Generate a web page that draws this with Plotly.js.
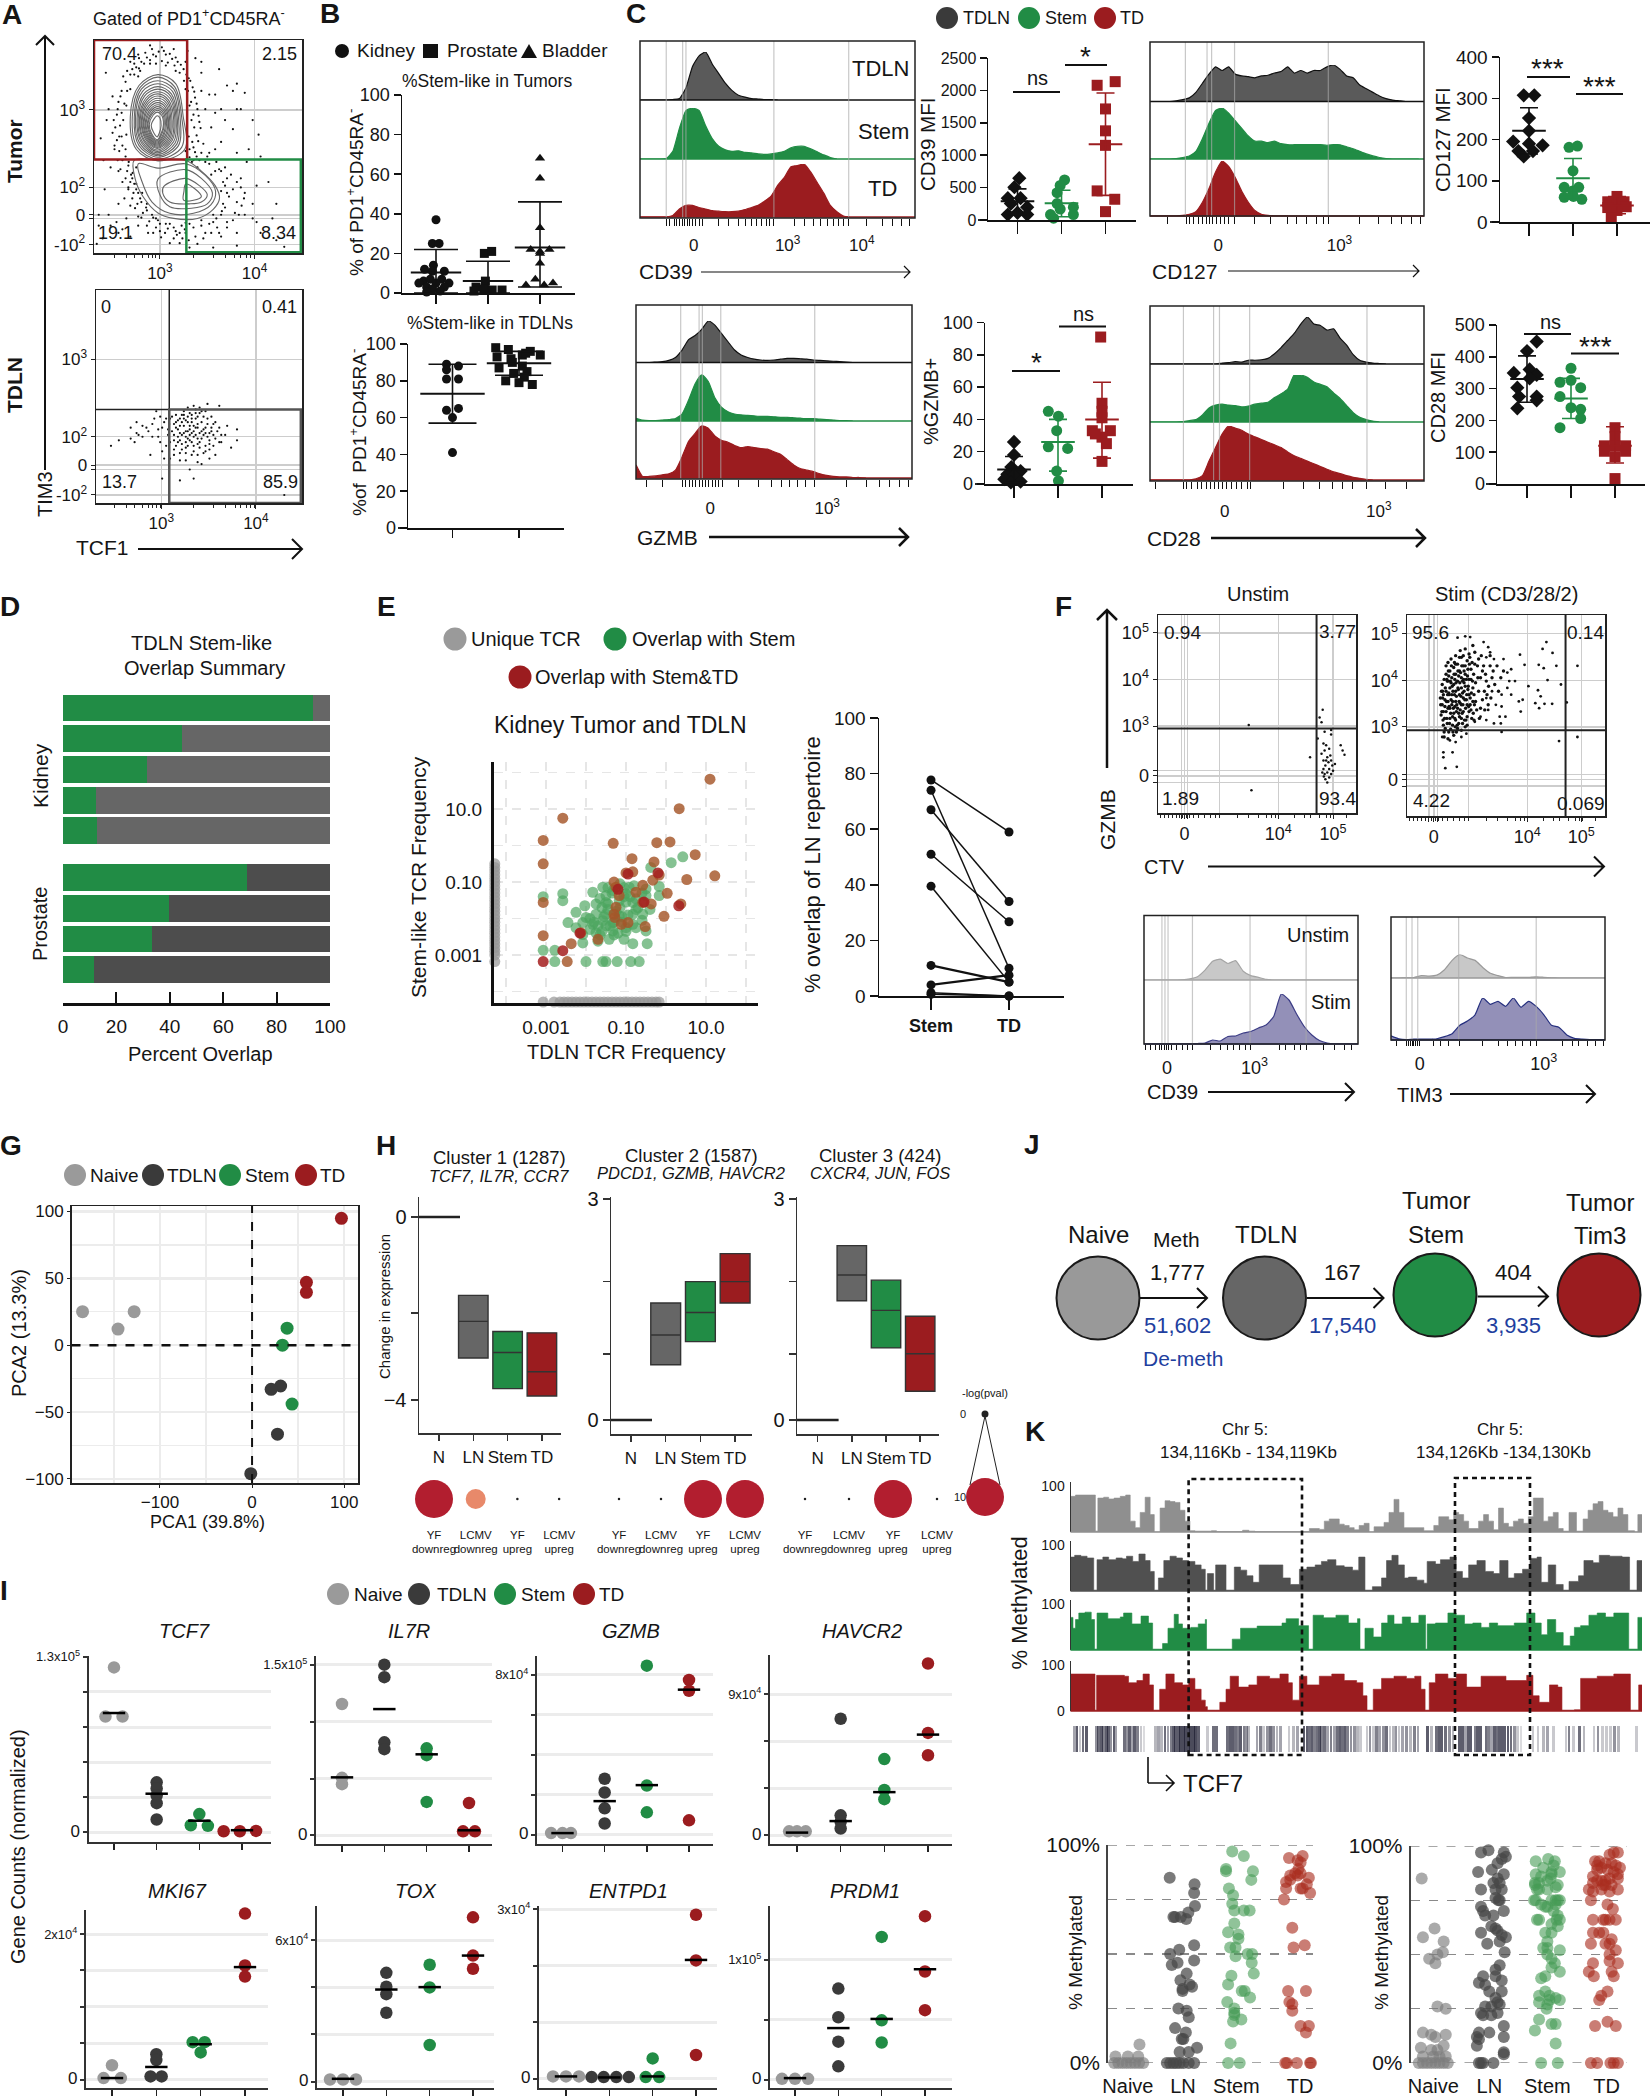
<!DOCTYPE html>
<html><head><meta charset="utf-8"><script src="https://cdn.plot.ly/plotly-3.0.1.min.js"></script>
<style>body{margin:0;background:#fff}</style></head><body><div id="c" style="width:1650px;height:2100px"></div>
<script>
const GRY='#9a9a9a',DRK='#3a3a3a',GRN='#218c45',RED='#9b1c1f',BLU='#1f3f9f';
/* ---------- data ---------- */
const aTopRings=[
[400,205,445,230,464,320,468,410,400,442,345,410,330,320,352,235],
[400,212,442,238,460,321,460,405,400,437,348,405,335,321,355,240],
[400,222,440,245,456,322,452,400,400,432,352,400,340,322,358,245],
[400,230,437,251,452,323,448,396,400,428,355,396,343,323,361,251],
[400,238,434,258,449,325,444,392,399,424,358,392,347,325,364,258],
[400,245,432,264,446,326,440,389,398,420,360,389,350,326,366,264],
[400,252,430,270,443,328,436,386,398,416,363,386,353,328,369,270],
[400,258,427,275,440,330,433,384,398,412,365,384,355,330,371,275],
[400,264,425,280,436,332,430,382,398,408,368,382,358,332,373,280],
[400,270,423,285,433,333,427,380,398,405,370,380,360,333,375,285],
[400,276,421,290,430,335,424,378,398,402,372,378,363,335,377,290],
[400,282,419,295,427,336,421,376,398,399,374,376,365,336,379,295],
[400,288,417,300,425,338,418,374,398,396,376,374,368,338,381,300],
[399,293,415,304,422,339,415,372,398,393,378,372,370,339,383,304],
[399,298,413,308,419,340,413,370,398,390,380,370,373,340,385,308],
[398,303,411,312,416,341,410,368,398,387,382,368,375,341,386,312],
[398,308,409,316,414,342,408,367,398,384,384,367,378,342,388,316],
[398,318,405,324,408,345,404,364,398,376,389,364,383,345,392,324]];
const aTopLobes=[
[400,440,470,440,510,470,545,510,556,545,540,575,500,600,440,600,400,585,362,540,342,490,340,440],
[350,450,400,462,470,450,520,482,546,525,534,563,490,586,430,586,385,555,360,500],
[400,492,470,466,510,490,538,530,525,560,485,572,430,568,405,535],
[415,512,470,490,505,510,525,535,510,555,480,560,430,555,412,530],
[470,506,495,520,510,540,490,550,465,550,466,525]];
const aTopDots=[330,205,345,185,358,170,372,158,388,150,402,142,420,150,436,162,450,170,465,190,478,215,488,240,494,268,500,300,505,335,498,372,490,405,480,432,318,225,308,250,300,280,296,315,292,350,296,385,302,415,310,440,322,470,330,500,338,530,348,560,362,585,378,608,395,625,418,640,440,655,455,668,470,640,350,150,410,130,380,125,440,135,330,170,470,170,510,250,520,300,535,350,515,395,545,410,575,235,620,255,655,370,590,355,560,390,530,420,600,420,625,445,505,440,530,450,555,465,575,490,590,520,600,555,595,585,575,610,550,625,520,640,495,650,480,615,460,620,440,625,420,615,400,605,385,590,370,570,560,470,570,510,580,540,560,590,540,610,610,490,620,530,640,560,650,610,660,640,700,660,720,678,600,640,560,650,345,460,335,490,345,520,355,545,325,520,310,500,300,560,320,600,350,620,375,640,300,640,280,620,260,655,250,590,262,440,275,300,268,200,335,190,355,195,380,175,420,180,445,195,470,245,480,290,485,330,478,375,470,415,320,290,312,330,308,375,318,410,326,445,336,475,345,505,360,530,372,560,395,600,430,615,470,612,510,605,540,590,565,560,575,530,565,500,545,470,520,445,490,440,320,370,330,245,350,210,500,460,535,480,560,525,570,570,455,640,405,635,350,595,330,565,315,545,300,470,290,400,285,265,475,140,495,160,510,200,530,260,545,310,570,330,600,300,640,330];
const aTopDots2=[312,210,322,195,340,175,352,160,368,145,385,135,395,155,415,140,430,148,445,158,458,178,472,205,482,222,492,252,498,285,503,318,508,352,502,388,494,418,486,445,305,265,298,300,288,330,285,365,290,410,298,440,305,465,318,490,325,515,335,545,342,572,358,598,372,620,388,640,408,652,430,668,448,645,462,655,478,660,500,670,515,655,535,640,555,640,575,625,590,605,605,590,612,565,618,545,610,515,600,500,585,480,570,460,548,445,525,430,510,420,498,430,340,205,352,188,365,175,380,165,395,175,410,168,425,172,442,180,455,200,466,222,476,250,484,280,490,315,492,350,487,390,480,410,322,250,315,285,308,310,304,345,302,375,310,400,318,430,325,455,332,480,340,505,350,530,358,555,372,578,388,598,405,615,425,628,445,635,468,630,490,625,510,620,530,615,548,600,562,580,560,300,590,250,610,300,630,410,660,430,680,500,700,560,690,600,640,600,620,590,650,510,545,260,555,190,600,230,510,170,270,330,255,380,280,460,265,520,250,620,275,590,295,610,310,630,330,650,245,670,480,680,540,680,600,675];
const aBotDots=[430,1150,440,1165,450,1180,460,1140,470,1155,480,1170,490,1185,500,1145,510,1160,520,1175,530,1190,440,1195,455,1210,470,1200,485,1215,500,1205,515,1195,530,1210,445,1225,460,1235,475,1225,490,1240,505,1230,520,1225,480,1135,495,1125,510,1130,525,1150,540,1165,550,1185,545,1205,465,1170,475,1185,485,1160,495,1175,505,1190,490,1200,480,1195,470,1215,500,1165,515,1180,455,1190,445,1175,435,1185,460,1160,475,1145,505,1215,525,1200,535,1175,495,1150,485,1140,465,1140,450,1155,345,1160,360,1170,375,1185,390,1150,400,1200,410,1175,420,1225,395,1130,300,1210,280,1225,340,1215,380,1250,415,1260,430,1260,455,1265,480,1290,490,1315,455,1320,410,1315,525,1110,555,1115,600,1210,575,1170,560,1215,545,1250,510,1275,720,1360,330,1175,350,1195,425,1195,420,1150];
const aBotDots2=[445,1140,455,1150,465,1130,475,1120,490,1115,505,1120,520,1130,535,1145,545,1160,555,1175,560,1195,555,1215,540,1225,530,1235,515,1245,500,1250,485,1250,470,1245,455,1245,440,1235,430,1215,425,1180,428,1165,435,1145,450,1200,460,1195,470,1185,480,1180,490,1170,500,1175,510,1185,520,1190,510,1205,500,1220,490,1225,480,1210,470,1230,460,1220,450,1215,440,1210,465,1150,475,1160,485,1150,495,1135,505,1135,515,1145,525,1165,535,1185,540,1195,530,1220,520,1240,495,1195,485,1190,475,1205,465,1190,455,1170,445,1160,370,1175,385,1165,400,1180,415,1160,405,1145,385,1200,405,1215,360,1200,345,1190,330,1205,410,1240,440,1250,470,1265,500,1270,530,1260,570,1195,585,1230,600,1180];
const aXRug=[290,320,340,360,375,385,395,405,490,540,570,595,610,625,635,645];
const bTopKidX=[0,-.07,.06,-.05,-.22,.16,-.07,-.24,.11,-.11,.25,0,-.18,.16,-.07,.08,-.18,-.33];
const bTopKidY=[37,25,25,14,12,11,11,6,7,7,5,5,3,3,2,1,.5,5];
const bTopProX=[-.07,.07,-.05,-.23,-.08,.08,.27,-.27];
const bTopProY=[20,21,6,3,2,1.5,1.5,1];
const bTopBlaX=[0,0,0,-.18,0,.18,0,0,-.09,-.27,.08,.25];
const bTopBlaY=[68,58,33,22,21,22,20,15,7,4,4,5];
const bBotKidX=[-.09,.09,-.09,-.09,.09,.09,-.09,0,0];
const bBotKidY=[89,88,86,81,81,65,64,60,41];
const bBotProX=[-.35,-.16,.05,.17,-.33,-.12,.1,.32,-.1,.05,-.3,.12,-.08,.08,-.2,0,.2];
const bBotProY=[98,97,94,96,93,92,95,94,90,88,87,85,84,82,80,79,78];
/* histogram heights, % of each row's mode, one value per channel step */
const c39Tdln=[0,0,0,0,0,1,3,25,70,92,100,75,55,35,20,10,6,3,2,1,1,0];
const c39Stem=[0,0,0,0,1,15,60,95,100,95,65,40,25,18,15,16,13,12,10,9,10,12,15,22,25,25,20,14,8,3,0];
const c39Td=[0,0,0,0,0,3,15,22,22,18,15,12,11,10,10,11,14,18,22,30,40,60,75,95,97,100,85,65,45,22,10,2,0];
const c127Tdln=[0,0,0,0,2,5,10,25,50,75,95,85,95,75,70,68,65,70,72,78,82,95,78,85,78,85,85,95,100,88,70,65,45,35,25,15,8,4,2,0,0,0];
const c127Stem=[0,0,0,0,1,3,6,15,40,70,95,100,90,75,60,45,35,35,32,35,30,28,28,28,28,28,28,27,28,28,24,20,15,10,6,3,1,0,0,0,0,0];
const c127Td=[0,0,0,0,0,1,3,8,25,50,80,100,90,70,45,25,10,3,1,0,0,0];
const gzmbTdln=[0,0,0,1,2,5,12,30,55,65,80,100,90,70,50,30,18,12,8,6,5,6,8,10,10,9,8,6,5,4,3,2,1,0];
const gzmbStem=[6,2,1,1,2,3,5,15,45,80,100,85,50,30,20,15,13,12,11,10,10,9,8,8,7,6,5,5,4,3,2,1,1,0];
const gzmbTd=[25,3,3,4,6,8,15,40,70,85,100,95,80,72,68,62,58,60,58,56,55,50,45,35,25,18,15,12,8,5,3,2,2,1,1,0];
const c28Tdln=[0,0,0,0,0,0,0,0,0,0,0,2,3,5,4,8,8,9,12,22,35,50,65,85,100,85,82,72,75,55,40,20,8,4,2,1,0];
const c28Stem=[0,0,0,0,0,1,3,5,15,30,36,38,36,35,32,34,38,40,42,52,60,70,100,100,95,85,80,75,62,50,35,20,10,5,2,0];
const c28Td=[0,0,0,0,0,0,0,2,8,35,60,85,100,96,92,85,80,75,70,65,60,52,45,40,35,30,25,20,15,12,8,5,3,1,0];
const fCd39Un=[0,0,0,0,0,1,5,15,45,85,95,75,88,40,20,12,3,0,0,0,0,0,0,0,0,0,0,0,0];
const fCd39St=[0,0,0,0,0,0,0,1,2,8,6,15,16,22,25,32,38,55,100,88,60,35,18,7,2,0,0,0,0];
const fTimUn=[0,0,1,2,10,8,12,35,75,100,85,75,45,20,10,2,3,3,3,5,3,1,0,0,0,0,0,0,0];
const fTimSt=[10,3,1,2,2,2,3,8,15,35,45,60,100,85,92,80,100,78,92,80,60,35,30,12,4,2,1,1,1];
const cd39X=[[.04,-.07,-.22,.07,-.15,.22,-.22,0,.22],[.07,-.03,-.1,-.1,.27,-.03,-.25,.27,-.18],[.22,-.19,0,0,0,-.19,.21,0]];
const cd39Y=[[646,506,337,337,253,197,84,112,84],[618,534,421,253,197,168,84,84,28],[2135,2079,1714,1376,1152,449,320,129]];
const cd127X=[[-.12,.12,0,0,-.36,0,.31,-.24,.09,-.12],[-.09,.1,0,-.2,.13,-.01,-.2,.2,.01],[0,-.21,.16,0,-.21,.21,0,-.13]];
const cd127Y=[[307,307,252,221,195,190,186,172,172,159],[181,184,124,84,84,75,60,55,62],[62,49,49,40,35,37,28,9]];
const gzmbX=[[0,0,-.06,.15,-.15,0,-.22,.15,-.07],[-.22,.01,-.03,-.22,.22,-.03,.01],[-.03,0,0,0,-.22,.19,0,-.15,.1,0]];
const gzmbY=[[26,18,10.5,8,6,5,3,1.5,1],[45,42,33,23,22,8,2],[91,50,45,41,33,33,29,31,25,14]];
const cd28X=[[.22,0,-.3,.06,.22,.06,-.22,.22,-.18,.22,-.22],[0,0,-.25,.22,-.25,.22,0,-.25,.22],[0,0,-.24,.24,0,-.24,0,.24,0]];
const cd28Y=[[448,418,349,360,343,332,303,275,275,263,238],[364,326,320,303,275,235,240,177,206],[177,149,120,120,120,103,86,103,17]];
const dGreen=[93.7,44.7,31.4,12.3,12.6,68.8,39.7,33.4,11.6];
const dRows=[0,1,2,3,4,5.52,6.52,7.52,8.52];
const eBrown=[1.1,1.82,.33,1.01,-2.58,.75,-3.07,.14,-1.32,.06,-.23,.08,.1,.1,.73,-.25,-.85,-.36,-.3,-.45,-3.07,-.5,1.22,-.83,.52,-.93,.03,-1.31,.37,-1.6,-.05,-1.94,-3.07,-1.56,-3.07,-2.47,-2.47,-3.18,-2.37,-2.69,-1.7,-2.57,-2.13,-2.39,-.52,-2.22,-.95,-2.11,-1.28,-1.97,-1.25,-1.69,-1.17,-1.37,-.75,-1.28,-.33,-.95,-.17,-.81,-.83,-.72,-1,-.75,-1.3,-1,-1.25,-1.14,-.58,-1.09,-.58,-1.56,-.37,-1.6,-1.12,-2.16,-1.3,-1.88];
const eGreen=[-2.78,-3.18,-2,-3.18,-1.58,-3.18,-1.5,-3.18,-1.22,-3.18,-.88,-3.18,-.67,-3.18,-3.07,-2.87,-2.78,-2.87,-.47,-2.69,-.83,-2.69,-1.05,-2.57,-1.42,-2.57,-1.7,-2.62,-2.08,-2.67,-.5,-2.34,-.75,-2.25,-1,-2.25,-1.33,-2.34,-1.75,-2.39,-2.08,-2.44,-2.25,-2.25,-2.45,-2.11,-2.08,-2.11,-1.83,-2.16,-1.58,-2.06,-1.33,-2.11,-.83,-2.16,-.58,-1.88,-.83,-1.88,-1.17,-1.93,-1.5,-1.88,-1.75,-1.88,-2,-1.97,-2.25,-1.83,-2.03,-1.65,-1.75,-1.6,-1.5,-1.56,-1.17,-1.51,-.83,-1.56,-.5,-1.37,-.75,-1.46,-1,-1.32,-1.5,-1.37,-1.83,-1.28,-1.58,-1.14,-1.33,-1.23,-.92,-1.14,-.5,-1.19,-.17,-1.12,-2.58,-1.32,-2.58,-1.51,-3.07,-1.4,-.38,-.6,.13,-.47,.42,-.31,-.17,-1.37,-1.9,-2.3,-1.6,-2.35,-1.2,-2.4,-1.4,-2.2,-1.1,-2.1,-1.9,-2,-1.45,-1.75,-1.15,-1.7,-1.65,-1.45,-1.05,-1.4,-.7,-1.7,-.95,-1.9,-1.55,-1.95,-1.7,-2.2,-1.5,-2.2,-1.3,-2.1,-1.1,-1.95,-1.45,-1.6,-1.25,-1.8,-1,-1.55,-1.35,-1.3,-1.6,-1.7,-.9,-1.4,-.75,-1.75,-1.8,-2.1,-1.65,-2.45,-1.3,-2.45,-1,-2.35,-.6,-2.05,-.4,-1.75,-.8,-1.1,-1.05,-1.15,-1.15,-1.05,-1.45,-1.15,-.6,-1.3];
const eRed=[-2.58,-2.88,-3.07,-3.18,-2.15,-2.4,-.95,-.78,-.2,-.75,.32,-1.65,-.55,-1.55,-1.2,-1.2];
const eGrayY=[-.5,-.6,-.7,-.8,-.9,-1,-1.1,-1.2,-1.3,-1.4,-1.5,-1.6,-1.7,-1.8,-1.9,-2,-2.1,-2.2,-2.3,-2.4,-2.5,-2.6,-2.7,-2.8,-2.9,-3,-3.18];
const eGrayX=[-3.07,-2.8,-2.65,-2.55,-2.45,-2.35,-2.25,-2.15,-2.05,-1.95,-1.85,-1.75,-1.65,-1.55,-1.45,-1.35,-1.25,-1.15,-1.05,-.95,-.85,-.75,-.65,-.55,-.45,-.35,-.25,-.17];
const eStem=[77.7,74,67,51,39.5,11,4,1.2,.6];
const eTd=[59,10,34,26.7,5,5,7.5,0,0];
const fUnDots=[520,400,527,593,713,355,705,378,710,392,735,415,700,440,718,420,735,428,715,455,722,460,730,470,718,475,760,460,765,475,770,488,680,495,710,485,725,495,735,505,715,505,728,510,738,520,720,520,730,530,715,530,745,515,725,540,735,545,718,545,730,555,720,560,725,570,712,540,722,505,733,490,740,535,716,552];
const fStDense=[1020,320,1025,280,1025,340,1022,370,1028,400,1030,420,1035,225,1035,250,1035,300,1035,360,1038,395,1040,215,1040,270,1040,330,1042,420,1045,240,1045,290,1045,350,1045,380,1048,205,1050,260,1050,310,1050,340,1052,400,1055,230,1055,280,1055,365,1055,430,1060,195,1060,250,1060,300,1060,330,1060,385,1065,220,1065,270,1065,350,1065,410,1070,240,1070,310,1070,375,1072,180,1075,200,1075,260,1075,290,1075,340,1078,395,1080,225,1080,320,1080,360,1085,175,1085,250,1085,285,1085,405,1090,210,1090,340,1090,375,1095,190,1095,265,1095,310,1100,235,1100,355,1105,165,1105,290,1108,385,1110,220,1112,330,1118,260,1120,205,1125,350,1130,240,1135,300,1140,270,1145,340,1150,225,1155,260,1028,310,1032,345,1037,380,1042,305,1048,325,1052,375,1058,345,1062,315,1068,395,1072,335,1078,305,1082,275,1088,325,1092,295,1098,340,1030,265,1042,255,1058,265,1068,255,1082,240,1026,300,1033,410,1047,412,1062,420,1075,415,1030,435,1040,440,1023,300,1026,320,1028,360,1031,380,1033,290,1036,330,1038,270,1040,350,1041,240,1043,310,1044,395,1046,270,1047,365,1049,225,1051,285,1052,330,1053,420,1056,250,1057,310,1058,380,1060,220,1061,275,1063,340,1064,400,1066,240,1067,295,1068,365,1070,200,1071,275,1072,355,1074,315,1075,380,1076,225,1078,270,1079,340,1080,195,1082,300,1083,385,1085,225,1086,350,1088,265,1089,310,1090,400,1092,235,1093,285,1095,360,1097,200,1098,320,1100,265,1102,380,1103,215,1105,330,1107,250,1108,310,1110,185,1112,275,1115,355,1117,225,1120,300,1122,380,1125,260,1127,195,1130,325,1133,225,1136,355,1138,250,1142,310,1146,285,1150,195,1152,320,1158,240,1162,280,1168,225,1172,300,1178,260,1185,240,1021,340,1024,360,1027,385,1032,325,1037,265,1039,310,1043,345,1048,275,1053,300,1054,350,1057,215,1059,405,1062,360,1066,290,1069,330,1073,245,1077,365,1081,265,1084,325,1087,385,1091,255,1094,345,1096,220,1101,305,1104,270,1106,365,1109,340];
const fStSparse=[1065,142,1085,138,1098,140,1133,155,1145,170,1150,185,1140,200,1160,205,1185,205,1205,235,1195,245,1228,192,1287,175,1297,155,1313,187,1240,222,1277,222,1290,232,1323,225,1378,225,1300,267,1335,280,1350,333,1250,285,1275,297,1282,315,1268,335,1292,337,1312,337,1278,350,1235,325,1230,360,1200,270,1215,270,1195,290,1180,310,1205,310,1225,330,1175,375,1190,375,1160,395,1178,395,1180,345,1165,340,1145,355,1140,320,1155,300,1330,447,1378,435,1180,420,1033,527,1063,523,1028,495,1052,480,1028,480,1025,435,1045,445,1060,450,1075,435,1088,425,1110,390,1125,375,1140,385];
const gNaive=[-184,25,-128,25,-145.5,12],gTdln=[31,-30.5,20.7,-33,27.6,-66.5,-1.4,-96],gStem=[38,12.7,33,0,43.4,-44],gTd=[97,94.8,59,47,59,39.5];
const h1Q=[[-3.08,-2.28,-1.71],[-3.75,-2.96,-2.5],[-3.91,-3.38,-2.53]];
const h2Q=[[.75,1.155,1.59],[1.065,1.46,1.88],[1.59,1.88,2.26]];
const h3Q=[[1.62,1.97,2.37],[.98,1.49,1.9],[.39,.9,1.41]];
const hPval=[[10,5,0,0],[0,0,10,10],[0,0,10,0]];
const hCats=['YF<br>downreg','LCMV<br>downreg','YF<br>upreg','LCMV<br>upreg'];
const tcf7=[[94,66,66],[28.5,25,21,16.6,7.3],[10.4,4,3.7],[.6,.6,.8]],tcf7M=[68,22,6.6,1.2];
const il7r=[[77,33.7,30],[100,92.7,54.5,50.5],[51,47,19.6],[19,2.4,2.4]],il7rM=[34,74,47.5,3];
const gzmbG=[[1,1,1],[35,26.4,16.5,7],[105.7,30.7,14],[96.8,90,9]],gzmbM=[1,21,31,90.7];
const havcr2=[[2.6,2.6,2.6],[82.7,14,9.4,4.6],[54,32,25.5],[122,72.6,56.7]],havcr2M=[1.7,9.9,30.5,71.4];
const mki67=[[10,1.2,1.2],[17.6,13.5,2.3,2.3],[25.8,25.8,18.8],[114,78.4,70.8]],mki67M=[1.2,8.8,24.4,77.3];
const tox=[[1.4,1.4,1.4],[76.8,67,61.7,48.6],[82.5,66.5,25.8],[116,89,79.7]],toxM=[1.9,65,66.7,89];
const entpd1=[[1.4,1.4,1.4],[1,1,1,1],[12,1,1],[96.6,69.7,14]],entpd1M=[1.4,.8,1.4,70];
const prdm1=[[.8,.8,.8],[75.8,52,31.7,11.2],[118.8,49.4,31],[136,90,57.9]],prdm1M=[1.4,43,50.6,91.9];
const kT1=[170,82,182,85,218,85,230,2,236,78,250,80,262,76,275,78,290,82,303,85,314,25,326,10,338,45,350,80,362,40,372,0,386,55,398,72,410,70,422,68,434,50,446,25,458,3,470,2,510,3,522,1,585,4,600,2,615,1,746,8,770,6,782,25,794,30,818,18,830,15,842,10,854,5,866,15,878,20,890,0,902,12,926,22,938,45,950,75,962,45,974,10,998,10,1022,3,1046,15,1058,35,1082,28,1094,45,1106,40,1118,25,1130,8,1154,25,1166,40,1178,25,1190,5,1202,55,1214,20,1226,12,1238,25,1250,30,1262,20,1274,35,1286,78,1300,78,1310,25,1322,35,1334,45,1346,8,1358,2,1372,45,1390,2,1406,30,1418,50,1430,65,1442,70,1454,50,1466,45,1478,35,1490,55,1502,40,1514,3,1530,0,1538,40,1548,40];
const kT2=[170,78,180,82,195,80,210,76,226,2,234,72,248,78,262,72,280,76,295,74,305,80,320,68,335,85,350,70,362,45,372,2,382,30,395,70,410,80,425,76,440,70,455,68,470,60,485,50,495,2,500,40,515,2,520,60,535,60,545,2,565,55,580,48,595,35,610,20,625,60,650,60,670,60,682,30,700,15,722,50,740,55,760,60,775,68,790,72,810,58,830,55,850,48,865,78,880,2,898,10,920,30,932,70,945,82,960,60,975,30,985,32,1005,25,1022,18,1030,68,1050,62,1062,72,1085,78,1100,45,1115,30,1130,60,1150,70,1170,45,1190,40,1205,70,1225,30,1240,40,1260,50,1278,75,1295,78,1305,20,1322,60,1340,15,1358,2,1372,22,1395,35,1408,70,1430,65,1445,82,1470,80,1500,78,1518,2,1536,70,1548,70];
const kT3=[170,75,176,50,182,70,190,85,205,87,220,70,228,2,234,85,260,72,290,76,298,85,318,60,340,78,358,62,368,2,385,2,392,15,405,50,420,82,430,60,440,50,460,52,478,60,495,70,498,2,555,2,560,25,580,50,600,50,620,55,660,55,680,62,690,72,720,56,744,2,755,80,780,74,810,80,840,62,862,72,868,2,880,50,900,30,920,62,935,80,950,60,970,76,990,62,1010,80,1026,2,1030,60,1050,62,1080,85,1100,80,1120,60,1140,62,1160,52,1180,62,1200,56,1220,56,1240,62,1270,85,1290,62,1305,35,1320,70,1340,40,1358,10,1375,32,1385,52,1400,56,1420,80,1440,85,1460,76,1480,85,1516,2,1538,75,1548,75];
const kT4=[170,85,225,85,229,2,233,82,300,80,310,65,330,70,345,85,360,60,370,2,385,50,400,85,420,65,440,60,455,75,470,50,485,25,495,10,500,2,520,2,530,20,545,50,555,80,575,55,600,60,620,80,650,75,675,85,695,65,705,25,722,80,740,60,770,80,800,85,830,70,860,65,875,35,885,2,900,50,920,75,950,80,980,75,1000,80,1015,50,1025,2,1035,65,1050,85,1080,75,1100,85,1125,55,1160,80,1190,80,1220,70,1270,82,1285,35,1300,20,1325,60,1345,55,1355,2,1385,3,1400,75,1440,80,1480,85,1510,85,1520,2,1540,60,1548,60];
const barcode=[180,.5,186,.9,193,.3,200,.8,208,.9,233,.6,238,.8,245,.9,250,.7,256,.9,262,.9,268,.6,275,.9,280,.5,300,.8,306,.6,312,.9,318,.5,325,.9,332,.7,340,.3,347,.2,375,.4,382,.5,390,.4,398,.8,405,.5,412,.7,418,.9,424,.9,430,.9,436,1,442,1,448,1,454,1,460,1,466,1,472,1,478,.9,500,.3,515,.8,522,.8,548,.8,556,.9,562,.9,568,.8,574,.7,580,.9,588,.7,594,.6,600,.4,620,.5,628,.7,636,.3,645,.6,652,.8,660,.6,668,.4,676,.5,697,.3,708,.4,718,.5,733,.9,740,.9,746,.8,752,.9,758,.7,764,.8,770,.9,776,.7,782,.8,790,.5,798,.7,806,.5,814,.8,820,.9,826,.8,832,.9,838,.7,846,.6,854,.6,862,.4,870,.3,885,.3,892,.6,900,.3,908,.7,915,.5,925,.6,932,.8,940,.3,948,.4,955,.6,962,.3,970,.5,980,.6,990,.4,1000,.7,1008,.5,1030,.9,1040,.4,1052,.8,1060,.9,1066,.9,1075,.8,1083,.6,1092,.4,1108,.9,1115,.9,1122,.5,1130,.9,1136,.9,1145,.7,1152,.9,1158,.9,1172,.8,1178,.7,1185,.5,1192,.9,1198,.8,1205,.9,1212,.9,1218,.9,1225,.9,1232,.8,1240,.6,1248,.3,1256,.2,1285,.3,1297,.3,1310,.4,1320,.5,1335,.3,1365,.3,1372,.7,1382,.3,1398,.8,1408,.4,1432,.3,1442,.6,1452,.3,1462,.3,1472,.3,1482,.6,1492,.4,1535,.3];
const kL=[[2.75,0,2.85,0,2.95,0,3.05,0,3.15,0,3.25,0,3.35,0,3.45,0,2.78,3,3.08,3,3.33,3,3.36,8.5],
[4.09,85,4.69,82,4.68,78,4.7,72,4.54,69,4.18,67,4.22,67,4.36,67,4.49,66,4.68,54,4.32,52,4.1,50,4.14,45,4.28,46,4.68,47,4.5,41,4.35,38,4.57,36,4.4,34,4.63,35,4.4,33,4.3,25,4.5,24,4.55,21,4.22,16,4.48,14,4.42,11,4.38,11,4.33,5,4.55,5,4.75,7,4.02,0,4.1,0,4.18,0,4.25,0,4.33,0,4.42,0,4.55,0,4.68,0],
[5.6,97,5.88,95,5.45,89,5.45,88,6.1,88,6.06,84,5.52,80,5.62,77,5.6,73,5.65,70,5.88,70,6.02,70,5.65,64,5.5,60,5.75,59,5.75,57,5.55,53,5.68,53,5.97,50,6.08,50,5.68,49,6.07,46,5.58,40,6.12,41,5.5,36,5.83,33,5.9,33,6.03,30,5.48,28,5.65,25,5.65,23,5.65,22,5.82,20,5.62,19,5.56,9,5.5,0,5.78,0],
[7.3,95,6.97,94,7.18,93,7.25,92,7.2,89,7.12,87,7.25,87,7,86,7.18,86,7.45,85,6.9,83,7,84,7.4,82,6.9,80,7.3,80,7.48,78,7.25,80,6.85,75,7.05,62,7.35,54,7.08,53,6.95,33,7.38,33,6.98,28,7.05,27,7.05,24,7.25,17,7.45,17,7.38,14,6.88,0,6.92,0,7.16,0,7.48,0,7.5,0]];
const kR=[[10.17,85,10.48,62,10.2,58,10.7,56,10.55,50,10.35,48,10.68,51,10.5,46,10.55,26,10.75,25,10.2,14,10.4,13,10.5,12,10.75,13,10.15,7,10.4,6,10.55,6,10.7,8,10.75,3,10.1,0,10.2,0,10.3,0,10.4,0,10.5,0,10.6,0,10.7,0,10.8,0,10.2,3,10.45,3,10.6,3],
[11.6,97,11.78,98,12.15,97,12.2,95,12.1,94,12,92,11.53,88,11.86,89,12.15,87,12,85,11.9,83,12.05,83,11.95,80,12.1,80,11.6,80,11.95,76,12.05,75,12.02,75,11.6,72,11.65,70,12.15,70,11.7,68,11.9,68,11.85,63,11.6,60,11.95,62,12,61,12.1,59,12.2,58,12.05,56,11.75,55,12.17,51,12.05,45,11.95,43,11.65,40,11.95,40,12.1,38,11.55,37,11.7,36,11.8,33,12.1,33,11.95,30,12,28,12.05,27,11.7,26,11.85,26,11.6,23,11.65,22,11.85,22,12,23,12.15,17,11.55,14,11.8,14,11.5,12,11.55,11,12.15,12,11.5,8,12.15,5,12.15,4,11.55,0,11.6,0,11.65,0,11.9,0],
[12.92,93,13.22,94,13.38,93,13.35,91,13.1,90,13.5,88,13.3,88,12.92,87,13.05,86,13.3,87,13.28,85,12.9,83,13,83,13.2,84,12.9,82,13.45,82,13.4,81,13.2,80,12.95,80,13,80,13.4,75,13.3,75,12.88,75,12.92,75,13.45,75,13.5,75,13.4,73,13.05,73,13.15,72,13.2,72,13.35,70,13.45,68,13.42,66,12.95,66,13,66,13.3,64,13.5,66,13.45,63,13.3,60,13.15,60,13.2,56,13.2,53,13.1,53,13.2,50,13.5,52,13.3,48,13.38,46,13.3,44,13.5,42,13.15,40,13.05,39,13.15,33,13.25,31,13.4,30,13,31,13.25,29,13.5,29,13,28,13.2,27,13.18,25,13,20,13.3,18,13.4,18,12.9,15,13.4,9,13.05,0,13.45,0],
[14.8,97,14.9,97,14.7,96,14.35,93,14.45,93,14.6,92,14.75,92,14.85,91,14.4,91,14.5,90,14.95,90,14.4,89,14.65,89,14.8,88,14.9,87,14.3,86,14.7,85,14.5,84,14.6,84,14.9,85,14.4,84,14.6,82,14.75,82,14.9,80,14.3,83,14.55,82,14.5,80,14.3,79,14.7,79,14.2,80,14.25,75,14.65,73,14.78,71,14.3,66,14.55,66,14.6,66,14.7,66,14.85,66,14.3,60,14.45,60,14.55,60,14.75,57,14.25,55,14.6,55,14.7,55,14.85,52,14.7,50,14.3,46,14.9,46,14.7,47,14.2,42,14.32,40,14.75,42,14.8,40,14.65,33,14.5,31,14.45,29,14.65,19,14.35,17,14.85,17,14.25,0,14.4,0,14.72,0,14.8,0,14.9,0]];
/* ---------- helpers ---------- */
const W=1650,H=2100,FONT='"Liberation Sans",Arial,sans-serif';
const layout={width:W,height:H,margin:{l:0,r:0,t:0,b:0,pad:0},showlegend:false,barmode:'stack',paper_bgcolor:'#fff',plot_bgcolor:'rgba(0,0,0,0)',font:{family:FONT,color:'#151515',size:16},shapes:[],annotations:[]};
const traces=[];let axN=0;
const xs=a=>a.filter((_,i)=>i%2==0),ys=a=>a.filter((_,i)=>i%2==1);
const px=x=>x/W,py=y=>1-y/H;
function addAxes(b,xo,yo){axN++;const s=axN==1?'':axN;const base={showgrid:false,zeroline:false,automargin:false,ticks:'',color:'#151515'};
 layout['xaxis'+s]=Object.assign({},base,{domain:[b[0]/W,b[2]/W],anchor:'y'+s},xo);
 layout['yaxis'+s]=Object.assign({},base,{domain:[1-b[3]/H,1-b[1]/H],anchor:'x'+s},yo);
 const ids={x:'x'+s,y:'y'+s};traces.push({type:'scatter',x:[null],y:[null],xaxis:ids.x,yaxis:ids.y,hoverinfo:'skip'});return ids;}
function T(x,y,t,o={}){layout.annotations.push({xref:'paper',yref:'paper',x:px(x),y:py(y),text:t,showarrow:false,xanchor:o.a||'center',yanchor:'middle',textangle:o.r||0,font:{size:o.s||18,color:o.c||'#151515',family:FONT},borderpad:0});}
function L(x0,y0,x1,y1,c='#111',w=2,dash){layout.shapes.push({type:'line',xref:'paper',yref:'paper',x0:px(x0),y0:py(y0),x1:px(x1),y1:py(y1),line:{color:c,width:w,dash:dash||'solid'}});}
function A(x0,y0,x1,y1,w=2,h=9){let p;
 if(y0==y1)p=`M ${px(x0)} ${py(y0)} L ${px(x1)} ${py(y1)} M ${px(x1-h)} ${py(y1-h)} L ${px(x1)} ${py(y1)} L ${px(x1-h)} ${py(y1+h)}`;
 else p=`M ${px(x0)} ${py(y0)} L ${px(x1)} ${py(y1)} M ${px(x1-h)} ${py(y1+h)} L ${px(x1)} ${py(y1)} L ${px(x1+h)} ${py(y1+h)}`;
 layout.shapes.push({type:'path',xref:'paper',yref:'paper',path:p,line:{color:'#111',width:w}});}
function C(cx,cy,d,fill,line,lw=0){layout.shapes.push({type:'circle',xref:'paper',yref:'paper',x0:px(cx-d/2),x1:px(cx+d/2),y0:py(cy+d/2),y1:py(cy-d/2),fillcolor:fill,line:{color:line||fill,width:lw}});}
function R(x0,y0,x1,y1,c,w,dash){layout.shapes.push({type:'rect',xref:'paper',yref:'paper',x0:px(x0),x1:px(x1),y0:py(y1),y1:py(y0),line:{color:c,width:w,dash:dash||'solid'}});}
function chips(y,list,d=22,s=19){list.forEach(l=>{C(l[0],y,d,l[1]);T(l[2],y,l[3],{a:'left',s});});}
const gridC='#cdcdcd';
function flow(b,xr,yr,xt,xl,yt,yl,rug,fs=17){const fr={showline:true,mirror:true,linecolor:'#222',linewidth:1.5,showgrid:true,gridcolor:gridC,gridwidth:1.5,ticks:'outside',ticklen:4,tickwidth:1,tickcolor:'#222',tickfont:{size:fs},tickmode:'array'};
 return addAxes(b,Object.assign({},fr,{range:xr,tickvals:xt,ticktext:xl,minor:{tickmode:'array',tickvals:rug||[],ticks:'outside',ticklen:3,tickcolor:'#222',showgrid:false}}),Object.assign({},fr,{range:yr,tickvals:yt,ticktext:yl}));}
function pts(id,a,size,c='#111',sym='circle'){traces.push({type:'scatter',mode:'markers',x:xs(a),y:ys(a),xaxis:id.x,yaxis:id.y,marker:{size,color:c,symbol:sym},cliponaxis:true,hoverinfo:'skip'});}
function gate(id,x0,y0,x1,y1,c,w){layout.shapes.push({type:'line',xref:id.x,yref:id.y,x0,y0,x1,y1,line:{color:c,width:w}});}
function gateRect(id,x0,y0,x1,y1,c,w){layout.shapes.push({type:'rect',xref:id.x,yref:id.y,x0,y0,x1,y1,line:{color:c,width:w}});}
function ring(id,a){const X=xs(a),Y=ys(a);X.push(X[0]);Y.push(Y[0]);traces.push({type:'scatter',mode:'lines',x:X,y:Y,xaxis:id.x,yaxis:id.y,line:{color:'#666',width:1.1,shape:'spline',smoothing:1},hoverinfo:'skip'});}
function hist(o){const [l,t,r,b]=o.box;
 o.rows.forEach(w=>{const id=addAxes([l,w.peak,r,w.base],{visible:false,range:o.xr},{visible:false,range:[0,100]});
  const x=w.v.map((_,i)=>o.start+i*o.step);traces.push({type:'scatter',mode:'lines',x,y:w.v,xaxis:id.x,yaxis:id.y,fill:'tozeroy',fillcolor:w.f,line:{color:w.c,width:1.2,shape:'spline',smoothing:.5},hoverinfo:'skip',cliponaxis:true});
  L(l,w.base,r,w.base,w.c,1.6);});
 const id=addAxes(o.box,{range:o.xr,tickmode:'array',tickvals:o.tv,ticktext:o.tt,tickfont:{size:o.fs||17},ticks:'',ticklabelstandoff:o.so||16,minor:{tickmode:'array',tickvals:o.rug,ticks:'outside',ticklen:o.rl||7,tickcolor:'#111',tickwidth:1,showgrid:false}},{visible:false,range:[0,1]});
 o.grid.forEach(g=>layout.shapes.push({type:'line',xref:id.x,yref:'paper',x0:g,x1:g,y0:py(t),y1:py(b),line:{color:'rgba(170,170,170,.65)',width:1.2}}));
 R(l,t,r,b,'#222',1.5);}
function dotPlot(b,cats,yr,yt,gr,o={}){const s=cats[1]-cats[0],xr=[1+(b[0]-cats[0])/s,1+(b[2]-cats[0])/s];
 const id=addAxes(b,{range:xr,tickmode:'array',tickvals:cats.map((_,i)=>i+1),ticktext:cats.map(()=>''),ticks:'outside',ticklen:o.tl||12,tickwidth:1.5,tickcolor:'#111',showline:true,linecolor:'#111',linewidth:1.8},
  {range:yr,tickmode:'array',tickvals:yt,ticktext:yt.map(String),ticks:'outside',ticklen:7,tickwidth:1.5,tickcolor:'#111',showline:true,linecolor:'#111',linewidth:1.5,tickfont:{size:o.fs||16}});
 gr.forEach((g,i)=>{traces.push({type:'scatter',mode:'markers',x:g.x.map(v=>i+1+v),y:g.y,xaxis:id.x,yaxis:id.y,cliponaxis:false,marker:{size:o.ms||11,color:g.c,symbol:g.s},hoverinfo:'skip'});
  traces.push({type:'scatter',mode:'markers',x:[i+1],y:[g.m],xaxis:id.x,yaxis:id.y,cliponaxis:false,marker:{symbol:'line-ew',size:o.mw||32,line:{width:2,color:g.bc||g.c}},error_y:{type:'data',symmetric:false,array:[g.hi-g.m],arrayminus:[g.m-g.lo],color:g.bc||g.c,thickness:1.6,width:o.cap||9},hoverinfo:'skip'});});
 if(o.ext)L(o.ext,b[3],b[0],b[3],'#111',1.8);return id;}
function sig(x0,x1,y,tx,ty,t){L(x0,y,x1,y,'#111',2);if(t=='ns')T(tx,ty,t,{s:20});else T(tx,ty+4,t,{s:28});}
/* ---------- A ---------- */
T(12,14,'<b>A</b>',{s:28});T(189,18,'Gated of PD1<sup>+</sup>CD45RA<sup>-</sup>',{s:18});
T(14,151,'<b>Tumor</b>',{s:21,r:-90});T(14,385,'<b>TDLN</b>',{s:21,r:-90});
const s10=n=>`10<sup>${n}</sup>`;
const aT=flow([94,40,302,253],[238,765],[695,110],[405,645],[s10(3),s10(4)],[302,515,590,600,672],[s10(3),s10(2),'0','','-'+s10(2)],aXRug);
pts(aT,aTopDots,2.2);pts(aT,aTopDots2,2.2);aTopRings.forEach(r=>ring(aT,r));aTopLobes.forEach(r=>ring(aT,r));
gateRect(aT,238,110,474,438,RED,2.5);gateRect(aT,472,438,762,693,GRN,2.5);
[[119,54,'70.4'],[279,54,'2.15'],[115,233,'19.1'],[278,233,'8.34'],[106,307,'0'],[279,307,'0.41'],[119,482,'13.7'],[280,482,'85.9']].forEach(v=>T(v[0],v[1],v[2],{s:18}));
const aB=flow([96,290,302,503],[242,765],[1382,797],[408,648],[s10(3),s10(4)],[988,1200,1278,1290,1360],[s10(3),s10(2),'0','','-'+s10(2)],aXRug);
pts(aB,aBotDots,2.2);pts(aB,aBotDots2,2.2);gate(aB,428,797,428,1125,'#222',1.5);gate(aB,242,1125,428,1125,'#222',1.5);gateRect(aB,428,1125,762,1382,'#555',2.5);
A(45,470,45,36,2,9);T(45,494,'TIM3',{s:20,r:-90});T(102,547,'TCF1',{s:21});A(138,549,302,549,2,10);
/* ---------- B ---------- */
T(330,13,'<b>B</b>',{s:28});
C(342,51,14,'#111');T(356,51,'Kidney',{a:'left',s:19});layout.shapes.push({type:'rect',xref:'paper',yref:'paper',x0:px(423),x1:px(438),y0:py(58),y1:py(44),fillcolor:'#111',line:{width:0}});T(446,51,'Prostate',{a:'left',s:19});
layout.shapes.push({type:'path',xref:'paper',yref:'paper',path:`M ${px(521)} ${py(58)} L ${px(537)} ${py(58)} L ${px(529)} ${py(44)} Z`,fillcolor:'#111',line:{width:0}});T(541,51,'Bladder',{a:'left',s:19});
T(487,81,'%Stem-like in Tumors',{s:17.5});T(490,323,'%Stem-like in TDLNs',{s:17.5});
T(355,193,'% of PD1<sup>+</sup>CD45RA<sup>-</sup>',{s:19,r:-90});T(358,433,'%of  PD1<sup>+</sup>CD45RA<sup>-</sup>',{s:19,r:-90});
dotPlot([402,95,575,293],[436,488,540],[0,100],[0,20,40,60,80,100],[{x:bTopKidX,y:bTopKidY,c:'#111',s:'circle',m:10.3,hi:22,lo:0},{x:bTopProX,y:bTopProY,c:'#111',s:'square',m:6,hi:16,lo:0},{x:bTopBlaX,y:bTopBlaY,c:'#111',s:'triangle-up',m:23,hi:46,lo:3}],{fs:18,ms:9,mw:36,ext:395,tl:9,cap:22});
dotPlot([408,344,564,528],[452.5,519],[0,100],[0,20,40,60,80,100],[{x:bBotKidX,y:bBotKidY,c:'#111',s:'circle',m:73,hi:89,lo:57},{x:bBotProX,y:bBotProY,c:'#111',s:'square',m:89.5,hi:96,lo:83}],{fs:18,ms:9,mw:46,ext:398,tl:8,cap:24});
/* ---------- C ---------- */
T(636,13,'<b>C</b>',{s:28});chips(18,[[947,DRK,962,'TDLN'],[1029,GRN,1044,'Stem'],[1105,RED,1119,'TD']],22,18);
const GN=GRN,RD=RED;
const rowSty=(v,base,peak,k)=>({v,base,peak,f:k==0?'#5a5a5a':k==1?GN:RD,c:k==0?'#111':k==1?GN:RD});
hist({box:[640,41,915,218],xr:[30,449],start:30,step:10,grid:[70,95,100,234,348],tv:[112,255,368],tt:['0',s10(3),s10(4)],rug:[70,75,82,86,90,94,98,102,106,110,115,120,125,150,165,180,190,200,208,215,222,228,234,265,280,295,305,315,325,332,340,348,375,400,415,428,440],so:15,rows:[rowSty(c39Tdln,100,52,0),rowSty(c39Stem,159,108,1),rowSty(c39Td,217,164,2)]});
hist({box:[1150,42,1424,216],xr:[806,1224],start:806,step:10,grid:[860,893,900,935,1078],tv:[910,1095],tt:['0',s10(3)],rug:[833,862,866,872,880,886,892,897,902,908,914,920,926,935,965,990,1015,1030,1045,1060,1070,1078,1125,1155,1175,1190,1205,1218],so:17,rows:[rowSty(c127Tdln,101.5,65,0),rowSty(c127Stem,159,108,1),rowSty(c127Td,216,161,2)]});
hist({box:[636,305,912,479],xr:[24,444],start:24,step:10,grid:[92,120,125,153,296],tv:[137,315],tt:['0',s10(3)],rug:[40,65,95,100,105,110,115,120,125,130,135,140,145,150,155,180,210,230,245,258,270,282,296,345,375,395,410,425,438],so:17,rows:[rowSty(gzmbTdln,362.5,321,0),rowSty(gzmbStem,421,374.5,1),rowSty(gzmbTd,478,425.5,2)]});
hist({box:[1150,306,1424,481],xr:[806,1224],start:806,step:10,grid:[857,903,912,958,1137],tv:[920,1155],tt:['0',s10(3)],rug:[815,857,862,870,878,885,892,898,904,910,916,922,930,938,946,955,960,1010,1040,1065,1085,1100,1115,1137,1165,1198],so:18,rows:[rowSty(c28Tdln,364,317,0),rowSty(c28Stem,422,375,1),rowSty(c28Td,480,426,2)]});
[[910,69,'TDLN'],[910,132,'Stem'],[898,189,'TD']].forEach(v=>T(v[0],v[1],v[2],{a:'right',s:22}));
T(638,272,'CD39',{a:'left',s:21});A(701,272,910,272,1.2,6);T(1151,271,'CD127',{a:'left',s:21});A(1228,271,1419,271,1.2,6);
T(636,537,'GZMB',{a:'left',s:21});A(709,537,908,537,2.5,9);T(1146,538,'CD28',{a:'left',s:21});A(1211,538,1425,538,2.5,9);
const kC='#111';
dotPlot([988,58,1136,220],[1017.5,1061.5,1105],[0,2500],[0,500,1000,1500,2000,2500],[{x:cd39X[0],y:cd39Y[0],c:kC,s:'diamond',m:290,hi:480,lo:80},{x:cd39X[1],y:cd39Y[1],c:GRN,s:'circle',m:260,hi:460,lo:50},{x:cd39X[2],y:cd39Y[2],c:RED,s:'square',m:1170,hi:1960,lo:380}],{ext:978,mw:24});
dotPlot([1500,57,1650,222],[1529,1573,1618],[0,400],[0,100,200,300,400],[{x:cd127X[0],y:cd127Y[0],c:kC,s:'diamond',m:221,hi:277,lo:165},{x:cd127X[1],y:cd127Y[1],c:GRN,s:'circle',m:106,hi:154,lo:55},{x:cd127X[2],y:cd127Y[2],c:RED,s:'square',m:40,hi:62,lo:20}],{ext:1490,mw:24,fs:19});
dotPlot([985,322.5,1133,484],[1014,1058,1103],[0,100],[0,20,40,60,80,100],[{x:gzmbX[0],y:gzmbY[0],c:kC,s:'diamond',m:9,hi:17,lo:1},{x:gzmbX[1],y:gzmbY[1],c:GRN,s:'circle',m:26,hi:40,lo:8},{x:gzmbX[2],y:gzmbY[2],c:RED,s:'square',m:40,hi:63,lo:16}],{ext:975,mw:24,fs:18});
dotPlot([1497,325,1645,484],[1527,1571,1615],[0,500],[0,100,200,300,400,500],[{x:cd28X[0],y:cd28Y[0],c:kC,s:'diamond',m:330,hi:403,lo:257},{x:cd28X[1],y:cd28Y[1],c:GRN,s:'circle',m:269,hi:332,lo:206},{x:cd28X[2],y:cd28Y[2],c:RED,s:'square',m:120,hi:180,lo:66}],{ext:1486,mw:24,fs:18});
T(927,144,'CD39 MFI',{s:20.5,r:-90});T(1443,140,'CD127 MFI',{s:20.5,r:-90});T(931,402,'%GZMB+',{s:20,r:-90});T(1438,398,'CD28 MFI',{s:20,r:-90});
sig(1013,1060,92,1037,78,'ns');sig(1065,1107,65,1085,53,'*');sig(1527,1570,77,1547,65,'***');sig(1576,1623,94,1599,82,'***');
sig(1012,1060,371,1036,358,'*');sig(1059,1106,326.5,1083,314,'ns');sig(1524,1571,334,1550,322,'ns');sig(1571,1619,353.5,1595,342,'***');
/* ---------- D ---------- */
T(10,607,'<b>D</b>',{s:28});T(201,643,'TDLN Stem-like',{s:20});T(204,668,'Overlap Summary',{s:20});
const dId=addAxes([63,695,330,1003],{range:[0,100],tickmode:'array',tickvals:[0,20,40,60,80,100],ticks:'inside',ticklen:11,tickwidth:2,tickcolor:'#111',showline:true,linecolor:'#111',linewidth:3,tickfont:{size:19},ticklabelstandoff:4},{visible:false,range:[9.6,-.42]});
traces.push({type:'bar',orientation:'h',x:dGreen,y:dRows,width:.87,xaxis:dId.x,yaxis:dId.y,marker:{color:GRN},hoverinfo:'skip'});
traces.push({type:'bar',orientation:'h',x:dGreen.map(v=>100-v),y:dRows,width:.87,xaxis:dId.x,yaxis:dId.y,marker:{color:dRows.map(r=>r<5?'#666':'#4d4d4d')},hoverinfo:'skip'});
T(40,776,'Kidney',{s:21,r:-90});T(40,924,'Prostate',{s:20,r:-90});T(200,1054,'Percent Overlap',{s:20});
/* ---------- E ---------- */
T(386,607,'<b>E</b>',{s:28});
C(455,639,23,GRY);T(470,639,'Unique TCR',{a:'left',s:20});C(615,639,23,GRN);T(631,639,'Overlap with Stem',{a:'left',s:20});C(520,677,23,RED);T(534,677,'Overlap with Stem&TD',{a:'left',s:20});
T(620,725,'Kidney Tumor and TDLN',{s:23});
const eTx=[-4,-3,-2,-1,0,1,2],eTl=['','0.001','','0.10','','10.0',''];
const eAx=(r)=>({range:r,tickmode:'array',tickvals:eTx,ticktext:eTl,showgrid:true,griddash:'dash',gridcolor:'#e6e6e6',gridwidth:1.2,showline:true,linecolor:'#111',linewidth:3,tickfont:{size:19},ticklabelstandoff:5});
const eId=addAxes([494,762,758,1003],eAx([-4.3,2.3]),eAx([-4.315,2.29]));
traces.push({type:'scatter',mode:'markers',x:eGrayY.map(()=>-4.28),y:eGrayY,xaxis:eId.x,yaxis:eId.y,cliponaxis:false,marker:{size:11,color:'rgba(150,150,150,.7)'},hoverinfo:'skip'});
traces.push({type:'scatter',mode:'markers',x:eGrayX,y:eGrayX.map(()=>-4.29),xaxis:eId.x,yaxis:eId.y,cliponaxis:false,marker:{size:11,color:'rgba(150,150,150,.7)'},hoverinfo:'skip'});
traces.push({type:'scatter',mode:'markers',x:xs(eGreen),y:ys(eGreen),xaxis:eId.x,yaxis:eId.y,marker:{size:11,color:'rgba(75,165,95,.68)'},hoverinfo:'skip'});
traces.push({type:'scatter',mode:'markers',x:xs(eBrown),y:ys(eBrown),xaxis:eId.x,yaxis:eId.y,marker:{size:11,color:'rgba(165,85,40,.82)'},hoverinfo:'skip'});
traces.push({type:'scatter',mode:'markers',x:xs(eRed),y:ys(eRed),xaxis:eId.x,yaxis:eId.y,marker:{size:11,color:'rgba(165,30,30,.85)'},hoverinfo:'skip'});
T(626,1052,'TDLN TCR Frequency',{s:20});T(419,877,'Stem-like TCR Frequency',{s:21,r:-90});
const eL=addAxes([879,718,1064,996],{range:[.333,2.705],tickmode:'array',tickvals:[1,2],ticktext:['<b>Stem</b>','<b>TD</b>'],ticks:'outside',ticklen:12,tickwidth:1.5,tickcolor:'#111',showline:true,linecolor:'#111',linewidth:2,tickfont:{size:18}},{range:[0,100],tickmode:'array',tickvals:[0,20,40,60,80,100],ticks:'outside',ticklen:8,tickwidth:1.5,tickcolor:'#111',showline:true,linecolor:'#111',linewidth:1.5,tickfont:{size:19}});
eStem.forEach((v,i)=>traces.push({type:'scatter',mode:'lines+markers',x:[1,2],y:[v,eTd[i]],xaxis:eL.x,yaxis:eL.y,cliponaxis:false,line:{color:'#111',width:i==5||i==6?2.2:1.5},marker:{size:9,color:'#111'},hoverinfo:'skip'}));
T(812,865,'% overlap of LN repertoire',{s:22,r:-90});
/* ---------- F ---------- */
T(1063,607,'<b>F</b>',{s:28});T(1258,594,'Unstim',{s:20});T(1506,594,'Stim (CD3/28/2)',{s:20});
const fRug=[290,300,310,320,330,338,346,352,358,365,375,390,405,420,432,443,490,520,545,565,580,590,597,640,665,680,705,722,733,740,775];
const fUn=flow([1158,615,1356,813],[283,800],[660,75],[352,345,360,443,597,740],['0','','','',s10(4),s10(5)],[128,265,403,535,550,570],[s10(5),s10(4),s10(3),'','0',''],fRug,18);
pts(fUn,fUnDots,2.5);gate(fUn,697,75,697,660,'#222',2);gate(fUn,283,410,800,410,'#222',2);
const fSt=flow([1407,615,1605,816],[933,1450],[668,75],[1003,990,1012,1093,1247,1388],['0','','','',s10(4),s10(5)],[130,268,405,545,560,580],[s10(5),s10(4),s10(3),'','0',''],fRug.map(v=>v+650),18);
pts(fSt,fStDense,3.4);pts(fSt,fStSparse,2.8);gate(fSt,1347,75,1347,668,'#222',2);gate(fSt,933,415,1450,415,'#222',2);
[[1182,633,'0.94'],[1337,631,'3.77'],[1180,799,'1.89'],[1337,799,'93.4'],[1430,632,'95.6'],[1585,632,'0.14'],[1431,800,'4.22'],[1581,803,'0.069']].forEach(v=>T(v[0],v[1],v[2],{s:19}));
A(1107,768,1107,610,2.5,10);T(1108,820,'GZMB',{s:21,r:-90});T(1164,867,'CTV',{s:20});A(1208,866.5,1604,866.5,2,10);
hist({box:[1144,915.5,1358,1044],xr:[245,806],start:245,step:20,grid:[292,300,308,372,523,670],tv:[305,535],tt:['0',s10(3)],rug:[250,262,275,285,292,298,304,310,318,330,345,360,372,420,445,465,480,495,510,523,600,615,640,655,670,715,745,770,790],rl:5,so:11,fs:18,rows:[{v:fCd39Un,base:980,peak:958,f:'#c8c8c8',c:'#a5a5a5'},{v:fCd39St,base:1044,peak:994,f:'#9390b8',c:'#3c3d86'}]});
T(1350,935,'Unstim',{a:'right',s:20});T(1352,1002,'Stim',{a:'right',s:20});T(1172,1092,'CD39',{s:20});A(1208,1092,1354,1092,2,9);
hist({box:[1391,917,1605,1040],xr:[890,1450],start:890,step:20,grid:[930,945,960,1067,1270],tv:[965,1290],tt:['0',s10(3)],rug:[905,930,935,940,945,950,955,960,965,1000,1020,1040,1068,1130,1170,1195,1215,1235,1255,1270,1340,1365,1380,1405,1425,1445],rl:5,so:11,fs:18,rows:[{v:fTimUn,base:978,peak:954.5,f:'#c8c8c8',c:'#9a9a9a'},{v:fTimSt,base:1040,peak:998,f:'#9390b8',c:'#26307f'}]});
T(1420,1095,'TIM3',{s:20});A(1450,1094,1595,1094,2,9);
/* ---------- G ---------- */
T(11,1145,'<b>G</b>',{s:28});chips(1175,[[75,GRY,89,'Naive'],[153,DRK,166,'TDLN'],[230,GRN,244,'Stem'],[306,RED,319,'TD']]);
const gGrid={showgrid:true,gridcolor:'#ececec',gridwidth:2.5,showline:true,mirror:true,linecolor:'#222',linewidth:1.5,ticks:'outside',ticklen:3,tickcolor:'#222',tickfont:{size:17},tickmode:'array'};
const gId=addAxes([71.5,1206,358,1483],Object.assign({},gGrid,{range:[-196,115],tickvals:[-100,0,100],ticktext:['\u2212100','0','100'],minor:{tickmode:'array',tickvals:[-150,-50,50],showgrid:true,gridcolor:'#ececec',gridwidth:1.5,ticks:''}}),Object.assign({},gGrid,{range:[-103,104],tickvals:[-100,-50,0,50,100],ticktext:['\u2212100','\u221250','0','50','100'],minor:{tickmode:'array',tickvals:[-75,-25,25,75],showgrid:true,gridcolor:'#ececec',gridwidth:1.5,ticks:''}}));
layout.shapes.push({type:'line',xref:gId.x,yref:gId.y,x0:-196,x1:115,y0:0,y1:0,line:{color:'#111',width:2.5,dash:'dash'}},{type:'line',xref:gId.x,yref:gId.y,x0:0,x1:0,y0:-103,y1:104,line:{color:'#111',width:2,dash:'dash'}});
[[gNaive,GRY],[gTdln,DRK],[gStem,GRN],[gTd,RED]].forEach(g=>pts(gId,g[0],13,g[1]));
T(207,1522,'PCA1 (39.8%)',{s:18});T(19,1333,'PCA2 (13.3%)',{s:20,r:-90});
/* ---------- H ---------- */
T(386,1145,'<b>H</b>',{s:28});
[[499,1157,'Cluster 1 (1287)',1176,'TCF7, IL7R, CCR7'],[691,1155,'Cluster 2 (1587)',1173,'PDCD1, GZMB, HAVCR2'],[880,1155,'Cluster 3 (424)',1173,'CXCR4, JUN, FOS']].forEach(v=>{T(v[0],v[1],v[2],{s:18.5});T(v[0],v[3],'<i>'+v[4]+'</i>',{s:16.5});});
const hCol=['#666',GRN,RED];
function hPlot(b,c0,s,yr,tv,tt,q){const id=addAxes(b,{range:[1+(b[0]-c0)/s,1+(b[2]-c0)/s],tickmode:'array',tickvals:[1,2,3,4],ticktext:['N','LN','Stem','TD'],ticks:'outside',ticklen:6,tickwidth:1.5,tickcolor:'#333',showline:true,linecolor:'#333',linewidth:1.5,tickfont:{size:17},ticklabelstandoff:2},{range:yr,tickmode:'array',tickvals:tv,ticktext:tt,ticks:'outside',ticklen:7,tickwidth:1.5,tickcolor:'#333',showline:true,linecolor:'#333',linewidth:1.5,tickfont:{size:20}});
 q.forEach((v,i)=>traces.push({type:'box',x:[i+2],q1:[v[0]],median:[v[1]],q3:[v[2]],lowerfence:[v[0]],upperfence:[v[2]],width:.86,xaxis:id.x,yaxis:id.y,fillcolor:hCol[i],line:{color:'#333',width:1.4},boxpoints:false,hoverinfo:'skip'}));
 traces.push({type:'scatter',mode:'markers',x:[1],y:[0],xaxis:id.x,yaxis:id.y,cliponaxis:false,marker:{symbol:'line-ew',size:30,line:{width:2.5,color:'#222'}},hoverinfo:'skip'});}
hPlot([419,1197,561,1433],439,34.3,[-4.72,.44],[0,-2.1,-4],['0','','\u22124'],h1Q);
hPlot([611,1197,752,1434],631,34.7,[-.19,3.03],[0,.9,1.88,3],['0','','','3'],h2Q);
hPlot([797,1197,939,1434],817.6,34.2,[-.19,3.03],[0,.9,1.88,3],['0','','','3'],h3Q);
T(384,1307,'Change in expression',{s:15,r:-90});
[[434,41.7],[619,42],[805,44]].forEach((v,k)=>{const id=addAxes([v[0]-v[1]/2,1476,v[0]+v[1]*3.5,1522],{range:[-.5,3.5],tickmode:'array',tickvals:[0,1,2,3],ticktext:hCats,tickangle:0,tickfont:{size:11.5},ticklabelstandoff:4},{visible:false,range:[-1,1]});
 traces.push({type:'scatter',mode:'markers',x:[0,1,2,3],y:[0,0,0,0],xaxis:id.x,yaxis:id.y,cliponaxis:false,marker:{opacity:1,size:hPval[k].map(p=>p?p*3.6+2:2.5),color:hPval[k].map(p=>p==10?'#b21e2f':p==5?'#e8896a':'#222'),line:{width:0}},hoverinfo:'skip'});});
T(985,1393,'-log(pval)',{s:11});T(963,1414,'0',{s:11});C(985,1414,7,'#222');C(985,1497,38,'#b21e2f');T(960,1497,'10',{s:11});L(985,1416,970,1485,'#222',1);L(985,1416,1000,1485,'#222',1);
/* ---------- I ---------- */
T(4,1590,'<b>I</b>',{s:28});chips(1594,[[338,GRY,353,'Naive'],[419,DRK,436,'TDLN'],[505,GRN,520,'Stem'],[584,RED,598,'TD']]);
const gCol=[GRY,DRK,GRN,RED];
function gene(name,tx,ty,lx,ax,zero,tick,top,r,cats,lab,grid,vals,mean,offs){T(tx,ty,'<i>'+name+'</i>',{s:20});
 const u=(zero-tick)/100,s=(cats[3]-cats[0])/3;
 const id=addAxes([lx,top,r,ax],{range:[1+(lx-cats[0])/s,1+(r-cats[0])/s],tickmode:'array',tickvals:[1,2,3,4],ticktext:['','','',''],ticks:'outside',ticklen:6,tickwidth:1.5,tickcolor:'#222',showline:true,linecolor:'#333',linewidth:2},
 {range:[(zero-ax)/u,(zero-top)/u],tickmode:'array',tickvals:grid,ticktext:grid.map(g=>g==0?'<span style="font-size:17px">0</span>':g==100?lab:''),showgrid:true,gridcolor:'#ececec',gridwidth:3,ticks:'outside',ticklen:4,tickwidth:2,tickcolor:'#333',showline:true,linecolor:'#333',linewidth:2,tickfont:{size:13}});
 vals.forEach((v,i)=>{traces.push({type:'scatter',mode:'markers',x:v.map((_,j)=>i+1+(offs[i]?offs[i][j]||0:0)),y:v,xaxis:id.x,yaxis:id.y,cliponaxis:false,marker:{size:12.5,color:gCol[i]},hoverinfo:'skip'});
  traces.push({type:'scatter',mode:'markers',x:[i+1],y:[mean[i]],xaxis:id.x,yaxis:id.y,cliponaxis:false,marker:{symbol:'line-ew',size:16,line:{width:2.5,color:'#000'}},hoverinfo:'skip'});});}
const S3=[-.3,0,.3];
gene('TCF7',184,1631,88.6,1842,1832.3,1656.9,1656,271,[114,157,200,242],'1.3x10<sup>5</sup>',[0,20,40,60,80,100],tcf7,tcf7M,[[0,-.2,.2],[],[0,-.2,.2],[-.43,-.05,.33]]);
gene('IL7R',409,1631,316,1843.8,1835.4,1664.7,1655.5,492,[342,384,427,469],'1.5x10<sup>5</sup>',[0,33.3,66.7,100],il7r,il7rM,[[],[],[],[0,-.14,.14]]);
gene('GZMB',631,1631,537,1843.8,1834.7,1674.8,1655.5,713,[562.5,605,649,689],'8x10<sup>4</sup>',[0,25,50,75,100],gzmbG,gzmbM,[[-.27,0,.2],[],[],[]]);
gene('HAVCR2',862,1631,770,1843.8,1835,1694.4,1655,951.5,[797,841,884,928],'9x10<sup>4</sup>',[0,33.3,66.7,100],havcr2,havcr2M,[[-.18,0,.2],[],[],[]]);
gene('MKI67',177,1891,86,2088,2079.8,1934,1909.7,268,[112,157.5,201.5,245],'2x10<sup>4</sup>',[0,25,50,75,100],mki67,mki67M,[[0,-.19,.2],[0,0,-.13,.12],[-.18,.09,0],[]]);
gene('TOX',415,1891,317,2088,2081.5,1940,1906,494,[343,386.5,430,473],'6x10<sup>4</sup>',[0,33.3,66.7,100],tox,toxM,[S3,[],[],[]]);
gene('ENTPD1',628,1891,539,2088,2078.8,1909,1906,717,[566,609,652,696],'3x10<sup>4</sup>',[0,33.3,66.7,100],entpd1,entpd1M,[S3,[-.41,-.13,.16,.45],[0,-.16,.15],[]]);
gene('PRDM1',865,1891,770,2088,2079.8,1959.5,1906,951.5,[795,839,882,925],'1x10<sup>5</sup>',[0,50,100],prdm1,prdm1M,[S3,[],[],[]]);
T(18,1847,'Gene Counts (normalized)',{s:20,r:-90});
/* ---------- J ---------- */
T(1032,1144,'<b>J</b>',{s:28});
[[1098,1298,'#999'],[1264.5,1298,'#666'],[1435,1295,GRN],[1599,1295,RED]].forEach(v=>C(v[0],v[1],83,v[2],'#1a1a1a',2));
T(1098,1234,'Naive',{s:24});T(1266.6,1234,'TDLN',{s:24});T(1436,1200,'Tumor',{s:24});T(1436,1234,'Stem',{s:24});T(1600,1202,'Tumor',{s:24});T(1600,1235,'Tim3',{s:24});
T(1176,1239,'Meth',{s:21});T(1177.5,1272,'1,777',{s:22});T(1342,1272,'167',{s:22});T(1513,1272,'404',{s:22});
T(1177,1325,'51,602',{s:22,c:BLU});T(1183,1358.5,'De-meth',{s:21,c:BLU});T(1342,1325,'17,540',{s:22,c:BLU});T(1513,1325,'3,935',{s:22,c:BLU});
A(1140,1298,1207,1298,2,10);A(1307,1298,1383.5,1298,2,10);A(1477.6,1296.5,1548,1296.5,2,10);
/* ---------- K ---------- */
T(1035,1431,'<b>K</b>',{s:28});T(1245,1429,'Chr 5:',{s:17});T(1248,1452,'134,116Kb - 134,119Kb',{s:17});T(1500,1429,'Chr 5:',{s:17});T(1503,1452,'134,126Kb -134,130Kb',{s:17});
[[kT1,'#8f8f8f',1482,1532],[kT2,'#505050',1541,1591],[kT3,GRN,1600,1650],[kT4,RED,1661,1711]].forEach((v,k)=>{
 const id=addAxes([1070.5,v[2],1642,v[3]],{visible:false,range:[170,1548]},{range:[0,115],tickmode:'array',tickvals:k==3?[0,105]:[105],ticktext:k==3?['0','100']:['100'],showline:true,linecolor:'#333',linewidth:1,tickfont:{size:14},ticklabelstandoff:2});
 traces.push({type:'scatter',mode:'lines',x:xs(v[0]),y:ys(v[0]),xaxis:id.x,yaxis:id.y,fill:'tozeroy',fillcolor:v[1],line:{color:v[1],width:.6,shape:'hv'},hoverinfo:'skip'});
 L(1070.5,v[3],1642,v[3],v[1],1.5);});
const bcId=addAxes([1070.5,1726,1642,1752],{visible:false,range:[170,1548]},{visible:false,range:[0,1]});
traces.push({type:'bar',x:xs(barcode),y:xs(barcode).map(()=>1),width:6.5,xaxis:bcId.x,yaxis:bcId.y,marker:{color:ys(barcode).map(a=>`rgba(35,35,55,${a*.82})`),line:{width:0}},hoverinfo:'skip'});
T(1019,1603.5,'% Methylated',{s:22,r:-90});
R(1188.6,1479,1302,1755,'#111',2.6,'5px,4px');R(1455,1478,1530,1755,'#111',2.6,'5px,4px');
L(1148,1757,1148,1783,'#111',1.6);A(1148,1783,1174,1783,1.6,8);T(1181.6,1783,'TCF7',{a:'left',s:24});
function kPlot(b,xr,data,cats){const id=addAxes(b,{range:xr,tickmode:'array',tickvals:cats,ticktext:['Naive','LN','Stem','TD'],tickfont:{size:20},ticklabelstandoff:9},{range:[0,100],tickmode:'array',tickvals:[0,25,50,75,100],ticktext:['0%','','','','100%'],showgrid:true,griddash:'dash',gridcolor:'#8a8a8a',gridwidth:1.3,showline:true,linecolor:'#444',linewidth:1.8,tickfont:{size:21},ticklabelstandoff:2});
 [0,100].forEach(v=>layout.shapes.push({type:'line',xref:id.x,yref:id.y,x0:xr[0],x1:xr[1],y0:v,y1:v,layer:'below',line:{color:'#8a8a8a',width:1.3,dash:'dash'}}));
 const cl=['rgba(125,125,125,.65)','rgba(70,70,70,.72)','rgba(70,155,85,.6)','rgba(170,45,30,.62)'];
 data.forEach((d,i)=>traces.push({type:'scatter',mode:'markers',x:xs(d),y:ys(d),xaxis:id.x,yaxis:id.y,cliponaxis:false,marker:{size:12,color:cl[i]},hoverinfo:'skip'}));}
kPlot([1108,1845,1313,2063],[2.6,7.55],kL,[3.08,4.41,5.7,7.24]);kPlot([1410.5,1846,1627,2063],[9.9,15.12],kR,[10.45,11.8,13.2,14.63]);
T(1075,1953,'% Methylated',{s:19,r:-90});T(1381,1953,'% Methylated',{s:19,r:-90});
Plotly.newPlot('c',traces,layout,{staticPlot:true,displayModeBar:false});
</script></body></html>
